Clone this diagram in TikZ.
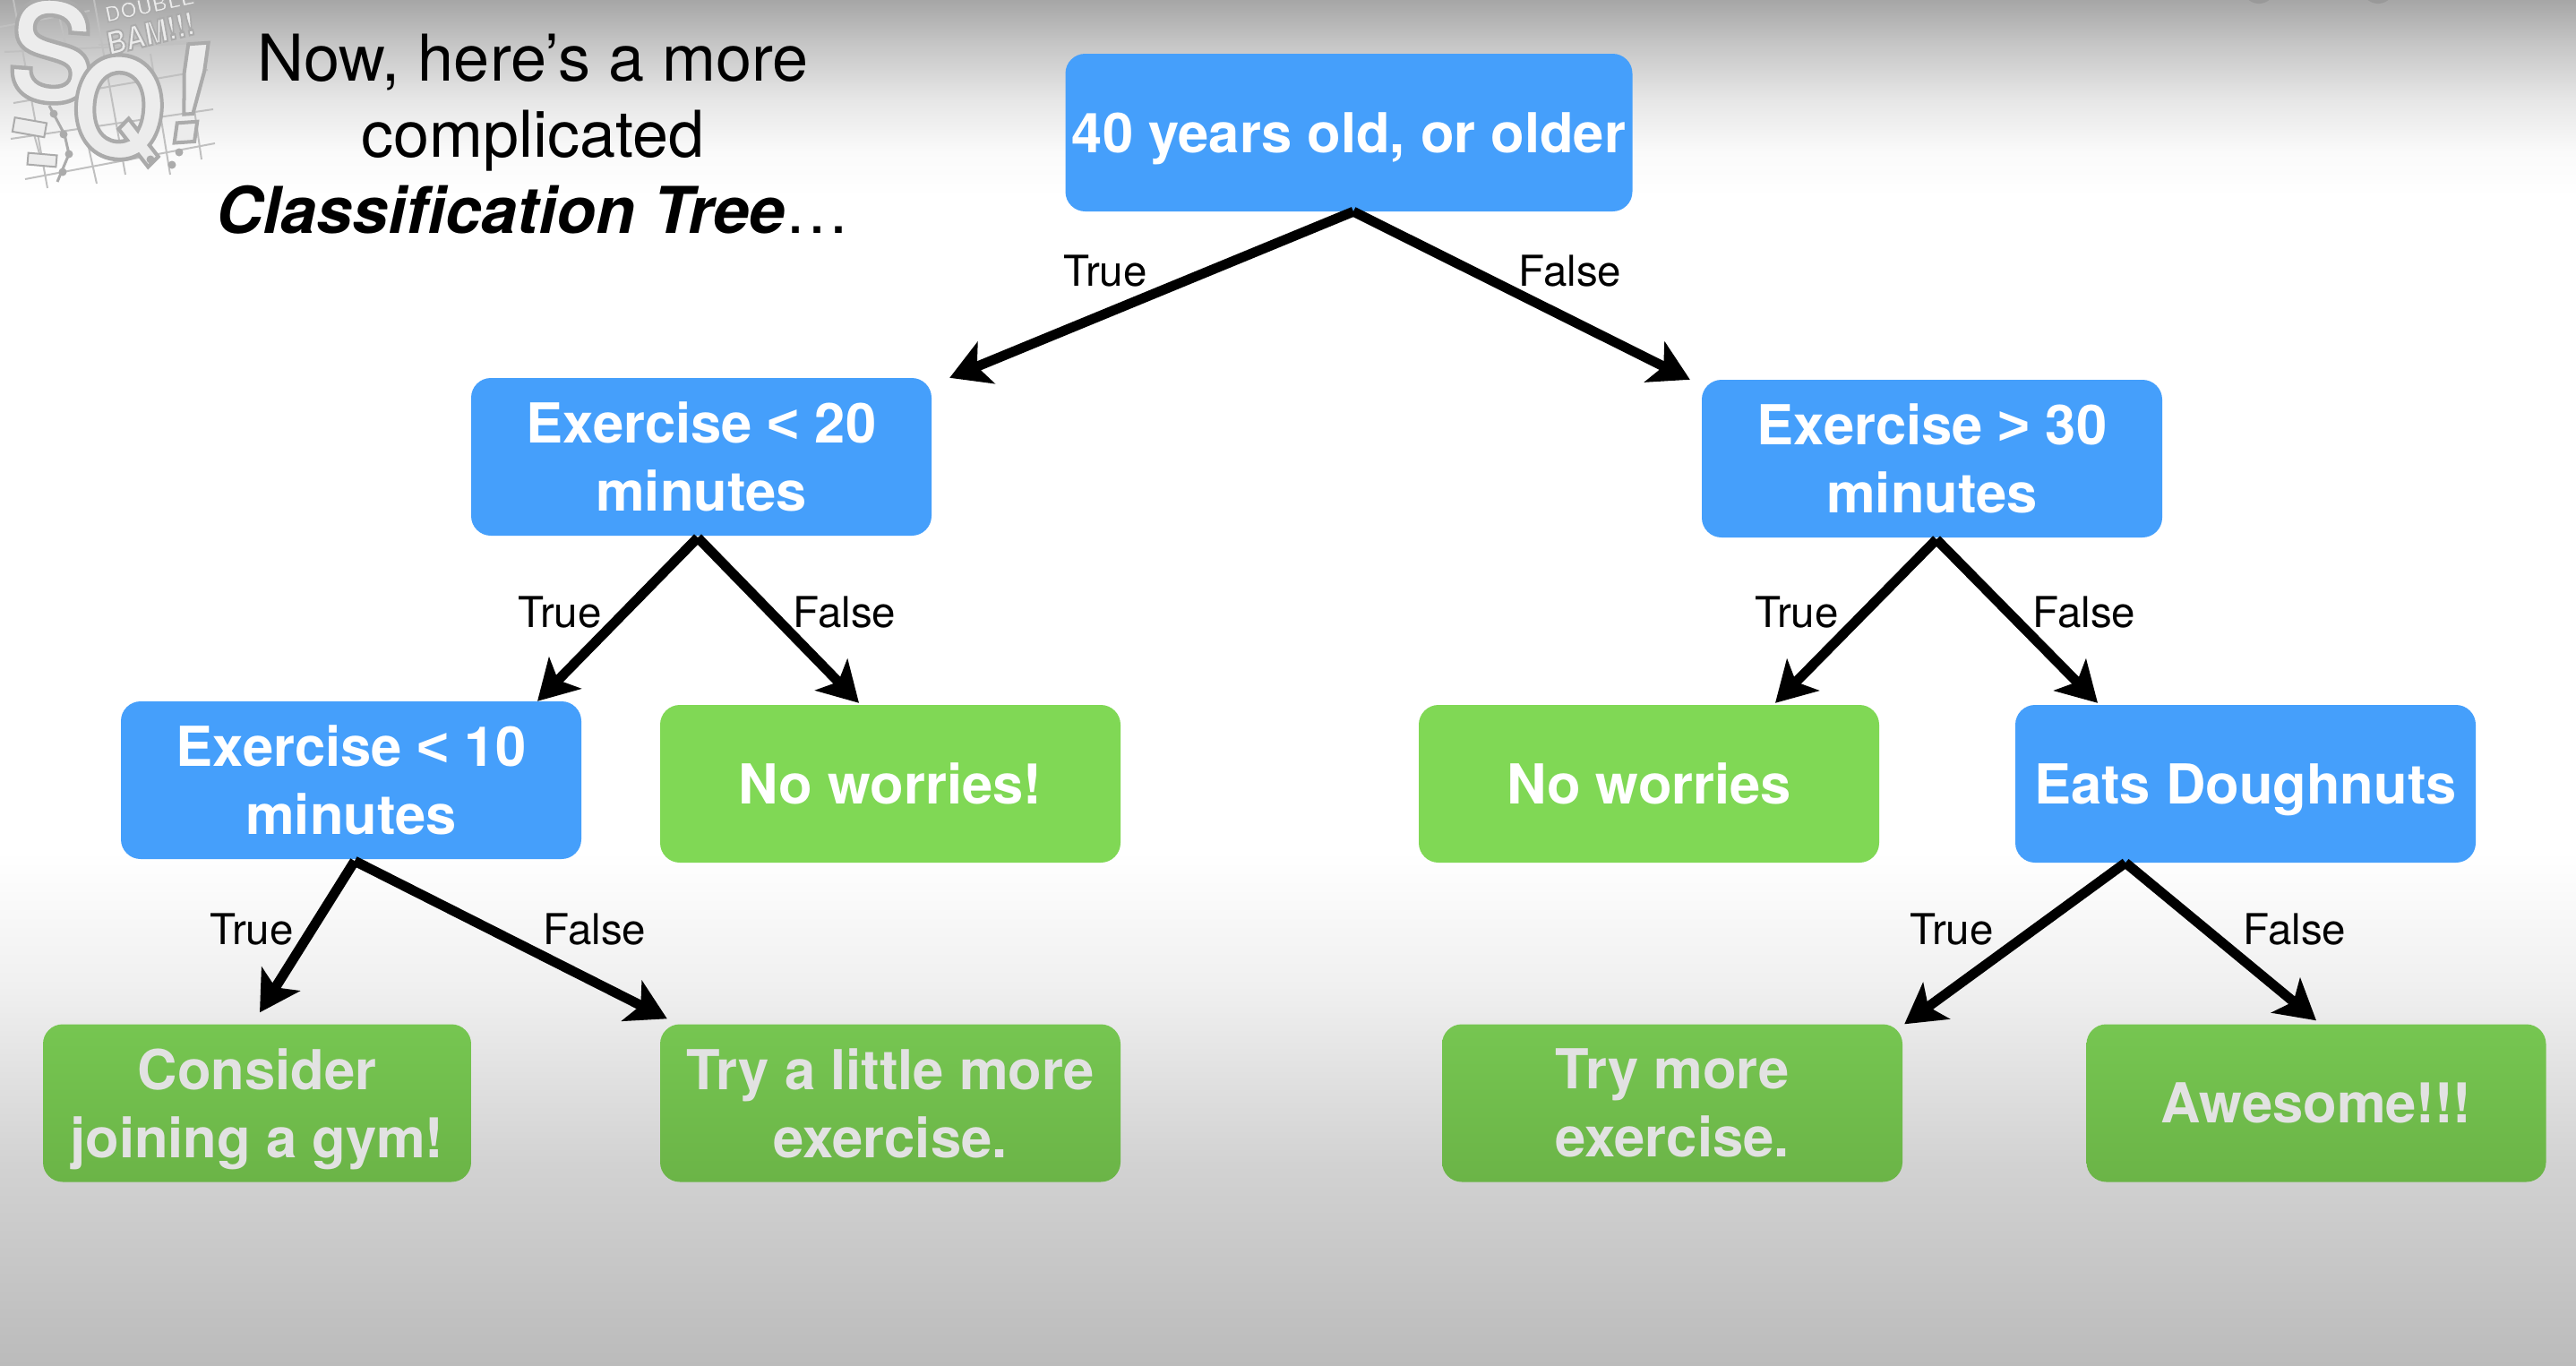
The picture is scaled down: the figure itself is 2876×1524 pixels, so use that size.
\documentclass[tikz,border=0pt]{standalone}
\usepackage{fontspec}
\setmainfont{TeX Gyre Heros}
\newfontfamily\ltfont{Liberation Sans}
\usetikzlibrary{arrows.meta}
\definecolor{c0}{HTML}{A6A6A6}
\definecolor{c1}{HTML}{C6C6C6}
\definecolor{c2}{HTML}{E6E6E6}
\definecolor{c3}{HTML}{FAFAFA}
\definecolor{c4}{HTML}{FFFFFF}
\definecolor{c6}{HTML}{F0F0F0}
\definecolor{c7}{HTML}{D2D2D2}
\definecolor{c8}{HTML}{BBBBBB}
\definecolor{blueb}{HTML}{459FFB}
\definecolor{greenl}{HTML}{80D855}
\definecolor{greent}{HTML}{76C651}
\definecolor{greenb}{HTML}{6BB447}
\definecolor{dimtxt}{HTML}{E2E2E2}
\definecolor{logoA}{HTML}{ABABAB}
\definecolor{logoB}{HTML}{ECECEC}
\pgfdeclareverticalshading{bgsh}{100bp}{color(0bp)=(c8); color(25bp)=(c8); color(32.35bp)=(c7); color(38.91bp)=(c6); color(43.83bp)=(c4); color(67.78bp)=(c4); color(69.42bp)=(c3); color(71.39bp)=(c2); color(73.36bp)=(c1); color(75bp)=(c0); color(100bp)=(c0)}
\newcommand\outl[2]{\special{pdf:code 2 Tr #1 w 0.67 G}#2\special{pdf:code 0 Tr}}
\newcommand\nodepth[1]{\raisebox{0pt}[\height][0pt]{#1}}
\tikzset{
  x=1pt,y=-1pt,
  treebox/.style={rounded corners=22pt,inner sep=0pt,minimum height=176pt,align=center,
     font=\fontsize{61.5}{76}\selectfont\bfseries},
  bluebox/.style={treebox,fill=blueb,text=white,minimum width=514pt},
  greenbox/.style={treebox,fill=greenl,text=white,minimum width=514pt},
  dimbox/.style={treebox,top color=greent,bottom color=greenb,text=dimtxt},
  arr/.style={line width=11pt,draw=black,-{Stealth[length=44pt,width=50pt,inset=11pt]}},
  lab/.style={font=\fontsize{47.5}{50}\selectfont,text=black,inner sep=0pt},
  titletxt/.style={font=\fontsize{72}{85}\selectfont,align=center,text=black,inner sep=0pt},
  logoline/.style={draw=logoA!75,line width=2pt},
  logomark/.style={draw=logoA,fill=logoB,line width=2pt},
  logotxt/.style={text=logoB,inner sep=0pt},
}
\begin{document}
\begin{tikzpicture}
\useasboundingbox (0,0) rectangle (2876,1524);
\shade[shading=bgsh] (0,0) rectangle (2876,1524);
\begin{scope}
\clip (0,0) rectangle (2876,1524);
\fill[gray!80] (2522,-14) circle (18);
\fill[gray!80] (2655,-14) circle (18);
% logo
\draw[logoline] (0,30) -- (100,12);
\draw[logoline] (5,58) -- (220,48);
\draw[logoline] (110,50) -- (222,46);
\draw[logoline] (15,115) -- (232,78);
\draw[logoline] (12,155) -- (238,122);
\draw[logoline] (28,200) -- (240,160);
\draw[logoline] (15,0) -- (53,210);
\draw[logoline] (62,0) -- (108,205);
\draw[logoline] (105,0) -- (140,195);
\draw[logoline] (168,60) -- (190,195);
\draw[logoline] (208,60) -- (225,178);
\node[logotxt,font=\fontsize{155}{155}\selectfont\bfseries,xscale=.92,rotate=-4] (logoS) at (58,57) {\outl{4.5}{S}};
\node[logotxt,font=\fontsize{155}{155}\selectfont\bfseries,xscale=.88,rotate=-5] (logoQ) at (132,122) {\outl{4.5}{Q}};
\node[logotxt,font=\fontsize{150}{150}\selectfont\bfseries\itshape,rotate=4] (logoX) at (208,104) {\outl{4}{!}};
\node[logotxt,font=\fontsize{36}{36}\selectfont\bfseries,xscale=.85,rotate=12] (logoBam) at (168,37) {\outl{2}{BAM!!!}};
\node[logotxt,font=\fontsize{24}{24}\selectfont\bfseries,rotate=12] (logoDbl) at (167,6) {\outl{1.5}{DOUBLE}};
\draw[logoline] (38,150) -- (45,175);
\draw[logomark,rotate around={-10:(32,142)}] (15,134) rectangle (51,150);
\draw[logomark,rotate around={-5:(47,179)}] (31,172) rectangle (63,185);
\draw[logoA,line width=3pt] (55,118) -- (72,150) -- (77,172) -- (64,203);
\foreach \cx/\cy in {60/127,71/150,77/172,70/192,168/178,200/170,192/184}
  \fill[logoA] (\cx,\cy) circle (4.5);
\end{scope}
% title
\node[titletxt] (title) at (595,150) {Now, here’s a more\\complicated\\{\bfseries\itshape Classification Tree}…};
% tree nodes
\node[bluebox,minimum width=633pt] (root) at (1506,148) {\nodepth{40 years old, or older}};
\node[bluebox] (e20) at (783,510) {Exercise {\ltfont\bfseries<} 20\\minutes};
\node[bluebox] (e30) at (2157,512) {Exercise {\ltfont\bfseries>} 30\\minutes};
\node[bluebox] (e10) at (392,871) {Exercise {\ltfont\bfseries<} 10\\minutes};
\node[greenbox] (nwa) at (994,875) {No worries!};
\node[greenbox] (nwb) at (1841,875) {No worries};
\node[bluebox] (eats) at (2507,875) {\nodepth{Eats Doughnuts}};
\node[dimbox,minimum width=478pt] (gym) at (287,1231.5) {Consider\\\nodepth{joining a gym!}};
\node[dimbox,minimum width=514pt] (tlm) at (994,1231.5) {Try a little more\\exercise.};
\node[dimbox,minimum width=514pt] (tme) at (1867,1231.5) {Try more\\exercise.};
\node[dimbox,minimum width=513pt] (awe) at (2586,1231.5) {Awesome!!!};
% connectors
\draw[arr] ([shift={(5,0)}]root.south) -- ([shift={(20,0)}]e20.north east);
\draw[arr] ([shift={(5,0)}]root.south) -- ([shift={(-13,0)}]e30.north west);
\draw[arr] ([shift={(-4,2)}]e20.south) -- ([shift={(208,0)}]e10.north);
\draw[arr] ([shift={(-4,2)}]e20.south) -- ([shift={(-35,-2)}]nwa.north);
\draw[arr] ([shift={(5,2)}]e30.south) -- ([shift={(141,-2)}]nwb.north);
\draw[arr] ([shift={(5,2)}]e30.south) -- ([shift={(-165,-2)}]eats.north);
\draw[arr] ([shift={(4,2)}]e10.south) -- ([shift={(3,-13)}]gym.north);
\draw[arr] ([shift={(4,2)}]e10.south) -- ([shift={(8,-6)}]tlm.north west);
\draw[arr] ([shift={(-134,0)}]eats.south) -- ([shift={(2,0)}]tme.north east);
\draw[arr] ([shift={(-134,0)}]eats.south) -- ([shift={(0,-4)}]awe.north);
% labels
\node[lab] (l1) at (1234,303) {True};
\node[lab] (l2) at (1753,303) {False};
\node[lab] (l3) at (625,684) {True};
\node[lab] (l4) at (943,684) {False};
\node[lab] (l5) at (2006,684) {True};
\node[lab] (l6) at (2327,684) {False};
\node[lab] (l7) at (281,1038) {True};
\node[lab] (l8) at (664,1038) {False};
\node[lab] (l9) at (2179,1038) {True};
\node[lab] (l10) at (2562,1038) {False};
\end{tikzpicture}
\end{document}
